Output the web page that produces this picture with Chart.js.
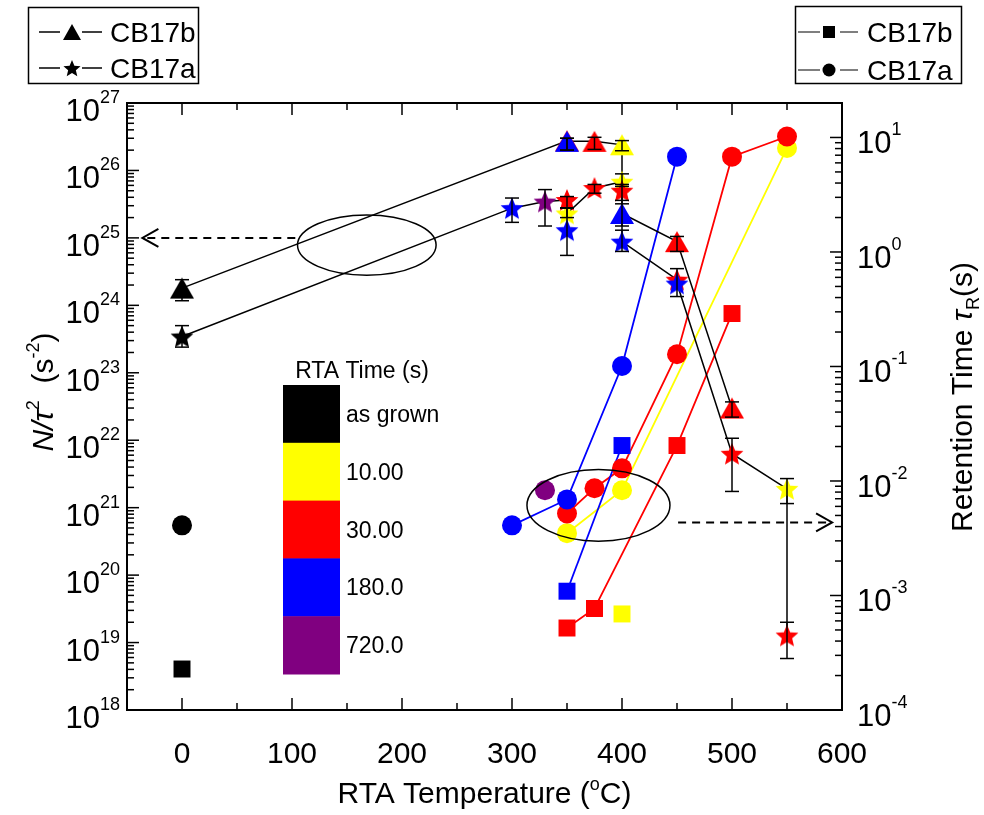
<!DOCTYPE html>
<html>
<head>
<meta charset="utf-8">
<script src="https://cdn.jsdelivr.net/npm/chart.js@4.4.0/dist/chart.umd.min.js"></script>
<style>
  body { margin: 0; background: #fff; }
  canvas { display: block; }
</style>
</head>
<body>
<canvas id="chart" width="984" height="815"></canvas>
<script>
const ctx = document.querySelector('#chart')
const FONT = "'Liberation Sans', Arial, sans-serif"

// RTA time groups (colour legend)
const rtaTimes = ['as grown', '10.00', '30.00', '180.0', '720.0']
const timeColors = ['#000000', '#ffff00', '#ff0000', '#0000ff', '#800080']

// axis tick labels
const xTicks = [0, 100, 200, 300, 400, 500, 600]
const leftExps = [18, 19, 20, 21, 22, 23, 24, 25, 26, 27]
const rightExps = [-4, -3, -2, -1, 0, 1]

// CB17b  N/tau^2  (triangles, left axis) - in the order the black line joins them
const triTemp = [0, 350, 350, 375, 400, 400, 450, 500]
const triVal  = [1.8e24, 2.75e26, 2.7e26, 2.7e26, 2.4e26, 2.3e25, 8.8e24, 3.0e22]
const triTime = [0, 2, 3, 2, 1, 3, 2, 2]
const triLow  = [1.17e24, 2.0e26, 2.0e26, 2.05e26, 1.96e26, 1.5e25, 6.3e24, 2.2e22]
const triHigh = [2.4e24, 3.0e26, 3.0e26, 3.1e26, 2.77e26, 3.2e25, 1.05e25, 3.7e22]

// CB17a  N/tau^2  (stars, left axis)
const starTemp = [0, 300, 330, 350, 350, 350, 375, 400, 400, 400, 450, 450, 500, 550, 550]
const starVal  = [3.45e23, 2.76e25, 3.45e25, 3.65e25, 2.3e25, 1.3e25, 5.5e25, 6.8e25, 5.0e25, 8.8e24, 2.4e24, 2.1e24, 6.3e21, 1.9e21, 1.27e19]
const starTime = [0, 3, 4, 2, 1, 3, 2, 1, 2, 3, 2, 3, 2, 1, 2]
const starLow  = [2.4e23, 1.7e25, 1.5e25, 2.75e25, 2.0e25, 5.5e24, 4.6e25, 5.8e25, 3.6e25, 6.3e24, 1.35e24, null, 1.74e21, 1.15e21, 5.8e18]
const starHigh = [5.0e23, 3.9e25, 5.2e25, 4.1e25, 2.8e25, 2.8e25, 6.2e25, 8.9e25, 6.2e25, 1.3e25, 3.5e24, null, 1.07e22, 2.7e21, 2.0e19]
const starLinked = [1, 1, 1, 1, 1, 0, 1, 1, 1, 1, 1, 1, 1, 1, 1]

// CB17a retention time (circles, right axis)
const circTemp = [0, 300, 330, 350, 350, 350, 375, 400, 400, 400, 450, 450, 500, 550, 550]
const circTau  = [4.1e-3, 4.1e-3, 8.3e-3, 6.9e-3, 5.2e-3, 3.5e-3, 8.65e-3, 1.29e-2, 8.3e-3, 0.101, 0.128, 6.8, 6.8, 10.2, 8.1]
const circTime = [0, 3, 4, 3, 2, 1, 2, 2, 1, 3, 2, 3, 2, 2, 1]

// CB17b retention time (squares, right axis)
const sqTemp = [0, 350, 350, 375, 400, 400, 450, 500]
const sqTau  = [2.28e-4, 1.09e-3, 5.2e-4, 7.7e-4, 2.04e-2, 6.9e-4, 2.04e-2, 0.29]
const sqTime = [0, 3, 2, 2, 3, 1, 2, 2]

// annotations (data coordinates)
const ellipses = [
    { axis: 'yL', x0: 105, x1: 231, y0: 2.8e24, y1: 2.19e25 },
    { axis: 'yR', x0: 313.6, x1: 443.6, y0: 2.98e-3, y1: 1.26e-2 }
]
const arrows = [
    { axis: 'yL', y: 1e25, from: 103, to: -36 },
    { axis: 'yR', y: 4.35e-3, from: 451, to: 591 }
]

// colour groups from bottom to top
const stackOrder = [1, 2, 3, 4, 0]

function makeStar(color, r) {
    const c = document.createElement('canvas')
    const s = Math.ceil(r * 2 + 2)
    c.width = s
    c.height = s
    const g = c.getContext('2d')
    g.beginPath()
    for (let i = 0; i < 10; i++) {
        const rad = i % 2 ? r * 0.45 : r
        const a = -Math.PI / 2 + i * Math.PI / 5
        g.lineTo(s / 2 + rad * Math.cos(a), s / 2 + 1 + rad * Math.sin(a))
    }
    g.closePath()
    g.fillStyle = color
    g.fill()
    return c
}

function makeTriangle(color, w, h) {
    const c = document.createElement('canvas')
    c.width = w + 2
    c.height = h + 2
    const g = c.getContext('2d')
    g.beginPath()
    g.moveTo(1 + w / 2, 1)
    g.lineTo(1 + w, 1 + h)
    g.lineTo(1, 1 + h)
    g.closePath()
    g.fillStyle = color
    g.fill()
    return c
}

function pick(temps, vals, times, time, lows, highs, keep) {
    const out = []
    temps.forEach((t, i) => {
        if (time !== null && times[i] !== time) return
        if (keep && !keep[i]) return
        out.push({ x: t, y: vals[i], lo: lows ? lows[i] : null, hi: highs ? highs[i] : null })
    })
    return out
}

const datasets = []
let order = 1000

// coloured connecting lines of the retention times
stackOrder.forEach(t => {
    datasets.push({ data: pick(circTemp, circTau, circTime, t), yAxisID: 'yR', showLine: true,
        borderColor: timeColors[t], borderWidth: 1.8, pointRadius: 0, order: order-- })
    datasets.push({ data: pick(sqTemp, sqTau, sqTime, t), yAxisID: 'yR', showLine: true,
        borderColor: timeColors[t], borderWidth: 1.8, pointRadius: 0, order: order-- })
})

// black connecting lines of N/tau^2
datasets.push({ data: pick(triTemp, triVal, triTime, null), yAxisID: 'yL', showLine: true,
    borderColor: '#000', borderWidth: 1.5, pointRadius: 0, order: order-- })
datasets.push({ data: pick(starTemp, starVal, starTime, null, null, null, starLinked), yAxisID: 'yL', showLine: true,
    borderColor: '#000', borderWidth: 1.5, pointRadius: 0, order: order-- })

// markers
stackOrder.forEach(t => {
    datasets.push({ data: pick(circTemp, circTau, circTime, t), yAxisID: 'yR',
        pointStyle: 'circle', pointRadius: 10, pointBackgroundColor: timeColors[t],
        pointBorderColor: timeColors[t], pointBorderWidth: 0, order: order-- })
})
stackOrder.forEach(t => {
    datasets.push({ data: pick(sqTemp, sqTau, sqTime, t), yAxisID: 'yR',
        pointStyle: 'rect', pointRadius: 12, pointBackgroundColor: timeColors[t],
        pointBorderColor: timeColors[t], pointBorderWidth: 0, order: order-- })
})
stackOrder.forEach(t => {
    datasets.push({ data: pick(triTemp, triVal, triTime, t, triLow, triHigh), yAxisID: 'yL', errorBars: true,
        pointStyle: makeTriangle(timeColors[t], 24, 21), pointRadius: 12, order: order-- })
})
stackOrder.forEach(t => {
    datasets.push({ data: pick(starTemp, starVal, starTime, t, starLow, starHigh), yAxisID: 'yL', errorBars: true,
        pointStyle: makeStar(timeColors[t], 12), pointRadius: 12, order: order-- })
})

function line(c, x1, y1, x2, y2) {
    c.beginPath()
    c.moveTo(x1, y1)
    c.lineTo(x2, y2)
    c.stroke()
}

// draws text pieces one after the other (for super/subscripts)
function runs(c, list, x, y, align) {
    let w = 0
    list.forEach(r => { c.font = r.f; w += c.measureText(r.t).width })
    let cx = align === 'center' ? x - w / 2 : align === 'right' ? x - w : x
    list.forEach(r => {
        c.font = r.f
        c.fillText(r.t, cx, y + (r.dy || 0))
        cx += c.measureText(r.t).width
    })
}

const errorBarPlugin = {
    id: 'errorBars',
    afterDatasetsDraw(chart) {
        const c = chart.ctx
        c.save()
        c.strokeStyle = '#000'
        c.lineWidth = 1.5
        chart.data.datasets.forEach(ds => {
            if (!ds.errorBars) return
            const ys = chart.scales[ds.yAxisID]
            ds.data.forEach(p => {
                if (p.lo == null) return
                const px = chart.scales.x.getPixelForValue(p.x)
                const y1 = ys.getPixelForValue(p.lo)
                const y2 = ys.getPixelForValue(p.hi)
                line(c, px, y1, px, y2)
                line(c, px - 7, y1, px + 7, y1)
                line(c, px - 7, y2, px + 7, y2)
            })
        })
        c.restore()
    }
}

const annotationPlugin = {
    id: 'notes',
    afterDatasetsDraw(chart) {
        const c = chart.ctx
        const x = chart.scales.x
        c.save()
        c.strokeStyle = '#000'
        c.lineWidth = 1.5
        ellipses.forEach(e => {
            const ys = chart.scales[e.axis]
            const x0 = x.getPixelForValue(e.x0), x1 = x.getPixelForValue(e.x1)
            const y0 = ys.getPixelForValue(e.y0), y1 = ys.getPixelForValue(e.y1)
            c.beginPath()
            c.ellipse((x0 + x1) / 2, (y0 + y1) / 2, Math.abs(x1 - x0) / 2, Math.abs(y1 - y0) / 2, 0, 0, Math.PI * 2)
            c.stroke()
        })
        c.lineWidth = 2
        arrows.forEach(a => {
            const py = chart.scales[a.axis].getPixelForValue(a.y)
            const p1 = x.getPixelForValue(a.from), p2 = x.getPixelForValue(a.to)
            const dir = p2 > p1 ? 1 : -1
            c.setLineDash([8, 6])
            line(c, p1, py, p2 - dir * 3, py)
            c.setLineDash([])
            c.beginPath()
            c.moveTo(p2 - dir * 16, py - 9)
            c.lineTo(p2, py)
            c.lineTo(p2 - dir * 16, py + 9)
            c.stroke()
        })
        c.restore()
    }
}

const axesPlugin = {
    id: 'frame',
    afterDraw(chart) {
        const c = chart.ctx
        const a = chart.chartArea
        const x = chart.scales.x, yl = chart.scales.yL, yr = chart.scales.yR
        c.save()
        c.strokeStyle = '#000'
        c.fillStyle = '#000'
        c.lineWidth = 2
        c.strokeRect(a.left, a.top, a.right - a.left, a.bottom - a.top)
        c.lineWidth = 1.5
        for (let v = 0; v <= 600; v += 50) {
            const px = x.getPixelForValue(v)
            const len = v % 100 === 0 ? 12 : 7
            line(c, px, a.bottom, px, a.bottom - len)
            line(c, px, a.top, px, a.top + len)
        }
        const logTicks = (scale, x0, dir) => {
            const e0 = Math.floor(Math.log10(scale.min)), e1 = Math.ceil(Math.log10(scale.max))
            for (let e = e0; e <= e1; e++) {
                for (let k = 1; k < 10; k++) {
                    const v = k * Math.pow(10, e)
                    if (v < scale.min * 0.999 || v > scale.max * 1.001) continue
                    const py = scale.getPixelForValue(v)
                    line(c, x0, py, x0 + dir * (k === 1 ? 12 : 7), py)
                }
            }
        }
        logTicks(yl, a.left, 1)
        logTicks(yr, a.right, -1)

        // tick labels
        c.textBaseline = 'alphabetic'
        c.textAlign = 'left'
        xTicks.forEach(v => {
            runs(c, [{ t: String(v), f: '30px ' + FONT }], x.getPixelForValue(v), 763, 'center')
        })
        leftExps.forEach(e => {
            const py = yl.getPixelForValue(Math.pow(10, e))
            runs(c, [{ t: '10', f: '31px ' + FONT }, { t: String(e), f: '18px ' + FONT, dy: -18 }], 120, py + 18, 'right')
        })
        rightExps.forEach(e => {
            const py = yr.getPixelForValue(Math.pow(10, e))
            runs(c, [{ t: '10', f: '31px ' + FONT }, { t: String(e), f: '18px ' + FONT, dy: -18 }], 857, py + 16, 'left')
        })

        // axis titles
        runs(c, [
            { t: 'RTA Temperature (', f: '30px ' + FONT },
            { t: 'o', f: '18px ' + FONT, dy: -13 },
            { t: 'C)', f: '30px ' + FONT }
        ], (a.left + a.right) / 2, 803, 'center')

        c.save()
        c.translate(42, 392)
        c.rotate(-Math.PI / 2)
        runs(c, [
            { t: 'N/\u03C4', f: 'italic 30px ' + FONT },
            { t: '2', f: '18px ' + FONT, dy: -14 },
            { t: '  (s', f: '30px ' + FONT },
            { t: '-2', f: '18px ' + FONT, dy: -14 },
            { t: ')', f: '30px ' + FONT }
        ], 0, 11, 'center')
        c.restore()

        c.save()
        c.translate(961, 397)
        c.rotate(-Math.PI / 2)
        runs(c, [
            { t: 'Retention Time ', f: '30px ' + FONT },
            { t: '\u03C4', f: 'italic 30px ' + FONT },
            { t: 'R', f: '18px ' + FONT, dy: 7 },
            { t: '(s)', f: '30px ' + FONT }
        ], 0, 11, 'center')
        c.restore()

        // marker legends
        c.lineWidth = 1.5
        c.strokeRect(28.5, 7.5, 170, 76)
        c.strokeRect(795.5, 6.5, 166, 77)
        const rowsL = [{ y: 32, name: 'CB17b', mk: makeTriangle('#000', 18, 16) },
                       { y: 68, name: 'CB17a', mk: makeStar('#000', 9) }]
        rowsL.forEach(r => {
            line(c, 39, r.y, 60, r.y)
            line(c, 82, r.y, 102, r.y)
            c.drawImage(r.mk, 72 - r.mk.width / 2, r.y - r.mk.height / 2)
            runs(c, [{ t: r.name, f: '28px ' + FONT }], 110, r.y + 10, 'left')
        })
        c.strokeStyle = '#555'
        line(c, 798, 32, 820, 32)
        line(c, 840, 32, 858, 32)
        line(c, 798, 70, 820, 70)
        line(c, 840, 70, 858, 70)
        c.fillRect(823, 26, 12, 12)
        c.beginPath()
        c.arc(829, 70, 6.5, 0, Math.PI * 2)
        c.fill()
        runs(c, [{ t: 'CB17b', f: '28px ' + FONT }], 867, 42, 'left')
        runs(c, [{ t: 'CB17a', f: '28px ' + FONT }], 867, 80, 'left')

        // RTA time colour legend
        runs(c, [{ t: 'RTA Time (s)', f: '23px ' + FONT }], 362, 378, 'center')
        rtaTimes.forEach((name, i) => {
            const top = 385 + i * 57.8
            c.fillStyle = timeColors[i]
            c.fillRect(283, top, 57, 58.3)
            c.fillStyle = '#000'
            runs(c, [{ t: name, f: '23px ' + FONT }], 346, top + 37, 'left')
        })
        c.restore()
    }
}

new Chart(ctx, {
    type: 'scatter',
    data: { datasets: datasets },
    options: {
        responsive: false,
        animation: false,
        devicePixelRatio: 1,
        layout: { padding: { left: 127, right: 142, top: 103, bottom: 105 } },
        plugins: { legend: { display: false }, tooltip: { enabled: false } },
        scales: {
            x: { type: 'linear', min: -50, max: 600, display: false },
            yL: { type: 'logarithmic', position: 'left', min: 1e18, max: 1e27, display: false },
            yR: { type: 'logarithmic', position: 'right', min: 1e-4, max: 20, display: false }
        }
    },
    plugins: [errorBarPlugin, annotationPlugin, axesPlugin]
})
</script>
</body>
</html>
